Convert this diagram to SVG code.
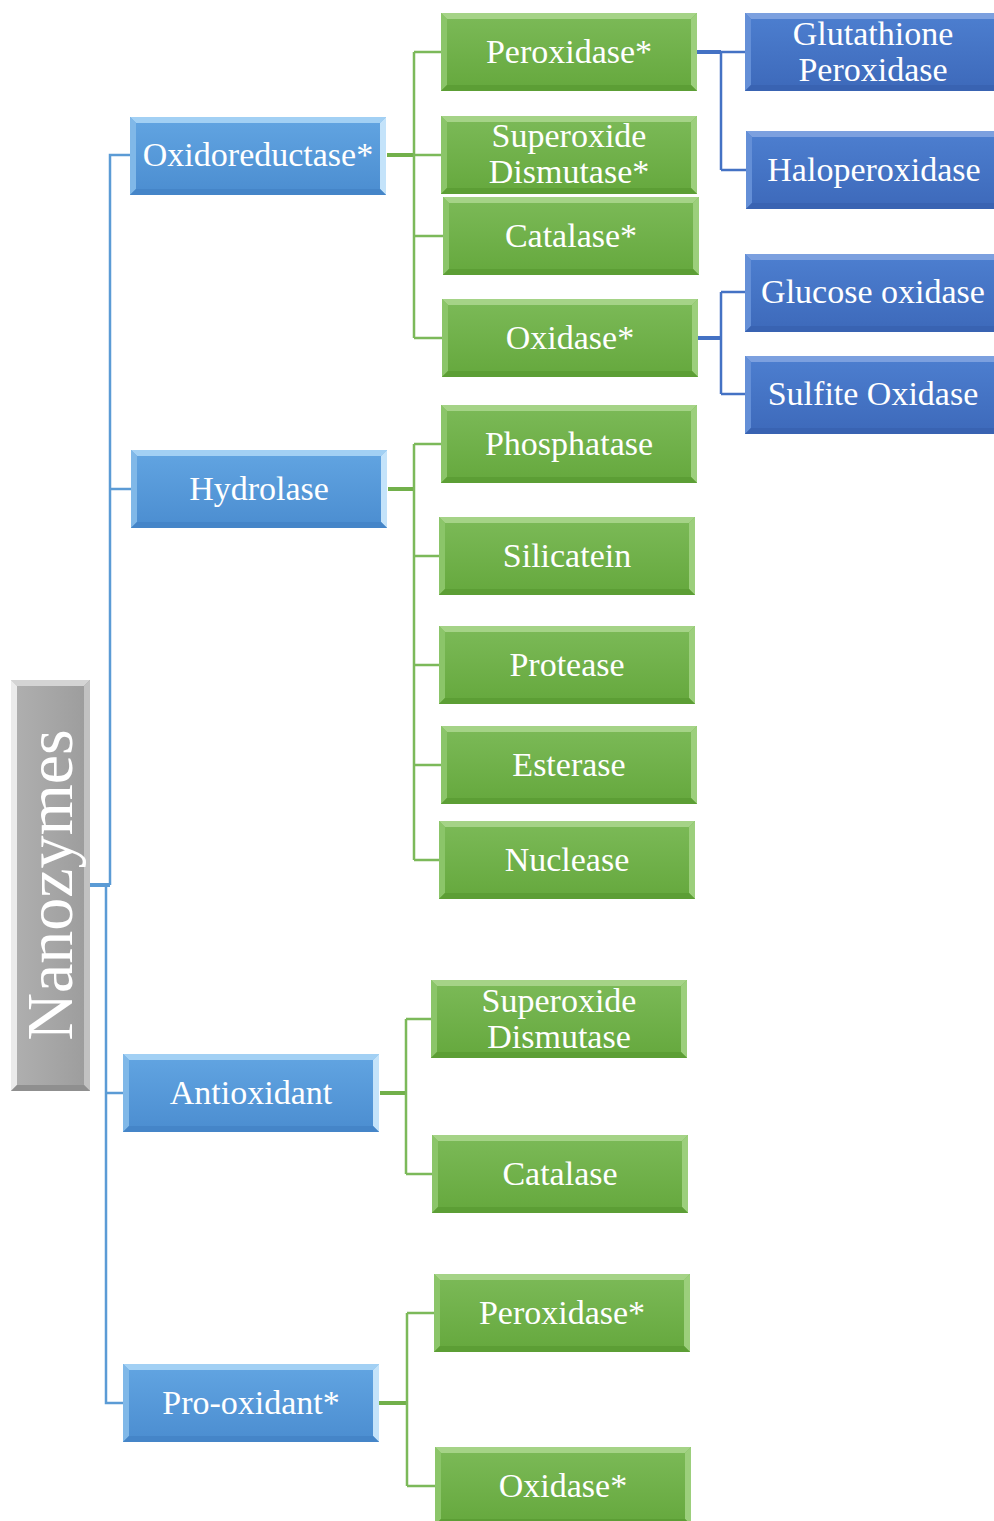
<svg xmlns="http://www.w3.org/2000/svg" xmlns:xlink="http://www.w3.org/1999/xlink" width="994" height="1521" viewBox="0 0 994 1521">
<style>
  text { font-family: "Liberation Serif", "Times New Roman", serif; fill: #ffffff; text-anchor: middle; }
  .t { font-size: 34px; }
  .big { font-size: 66px; }
  .cb { stroke: #5b9bd5; fill: none; stroke-width: 2.5; }
  .cbT { stroke: #5b9bd5; fill: none; stroke-width: 4; }
  .cg { stroke: #7cb95a; fill: none; stroke-width: 2.5; }
  .cgT { stroke: #72b04b; fill: none; stroke-width: 4; }
  .cd { stroke: #4472c4; fill: none; stroke-width: 2.5; }
  .cdT { stroke: #4472c4; fill: none; stroke-width: 4; }
</style>
<defs>
  <linearGradient id="gBlue" x1="0" y1="0" x2="0" y2="1">
    <stop offset="0" stop-color="#62a5e2"/><stop offset="1" stop-color="#4b8dd0"/>
  </linearGradient>
  <linearGradient id="gGreen" x1="0" y1="0" x2="0" y2="1">
    <stop offset="0" stop-color="#7cba58"/><stop offset="1" stop-color="#65a83d"/>
  </linearGradient>
  <linearGradient id="gDark" x1="0" y1="0" x2="0" y2="1">
    <stop offset="0" stop-color="#4d7fd0"/><stop offset="1" stop-color="#3d69ba"/>
  </linearGradient>
  <linearGradient id="gGray" x1="0" y1="0" x2="1" y2="0">
    <stop offset="0" stop-color="#b0b0b0"/><stop offset="1" stop-color="#9c9c9c"/>
  </linearGradient>
  <g id="boxBlue">
    <rect x="0" y="0" width="256" height="78" fill="url(#gBlue)"/>
    <polygon points="0,0 256,0 250,6 6,6" fill="#a2d0f4"/>
    <polygon points="0,0 6,6 6,72 0,78" fill="#80b8e8"/>
    <polygon points="256,0 256,78 250,72 250,6" fill="#c4e3fa"/>
    <polygon points="0,78 6,72 250,72 256,78" fill="#4585c8"/>
  </g>
  <g id="boxGreen">
    <rect x="0" y="0" width="256" height="78" fill="url(#gGreen)"/>
    <polygon points="0,0 256,0 250,6 6,6" fill="#a5d387"/>
    <polygon points="0,0 6,6 6,72 0,78" fill="#8bc569"/>
    <polygon points="256,0 256,78 250,72 250,6" fill="#9ccf7c"/>
    <polygon points="0,78 6,72 250,72 256,78" fill="#5c9e35"/>
  </g>
  <g id="boxDark">
    <rect x="0" y="0" width="256" height="78" fill="url(#gDark)"/>
    <polygon points="0,0 256,0 250,6 6,6" fill="#7ca0df"/>
    <polygon points="0,0 6,6 6,72 0,78" fill="#648fd7"/>
    <polygon points="256,0 256,78 250,72 250,6" fill="#7ca0df"/>
    <polygon points="0,78 6,72 250,72 256,78" fill="#3963b2"/>
  </g>
</defs>

<g id="connectors">
  <path class="cbT" d="M90,885 H110"/>
  <path class="cb" d="M110,885 V155 H130 M110,489 H131"/>
  <path class="cb" d="M106,885 V1403 H123 M106,1093 H123"/>
  <path class="cgT" d="M387,155 H414"/>
  <path class="cg" d="M414,52 V338 M414,52 H441 M414,155 H441 M414,236 H443 M414,338 H442"/>
  <path class="cgT" d="M388,489 H414"/>
  <path class="cg" d="M414,444 V860 M414,444 H441 M414,556 H439 M414,665 H439 M414,765 H441 M414,860 H439"/>
  <path class="cgT" d="M380,1093 H406"/>
  <path class="cg" d="M406,1019 V1174 M406,1019 H431 M406,1174 H432"/>
  <path class="cgT" d="M379,1403 H407"/>
  <path class="cg" d="M407,1313 V1486 M407,1313 H434 M407,1486 H435"/>
  <path class="cdT" d="M697,52 H721"/>
  <path class="cd" d="M721,52 V170 M721,52 H745 M721,170 H746"/>
  <path class="cdT" d="M698,338 H721"/>
  <path class="cd" d="M721,292 V394 M721,292 H745 M721,394 H745"/>
</g>

<g id="nanozymes">
  <rect x="11" y="680" width="79" height="411" fill="url(#gGray)"/>
  <polygon points="11,680 90,680 84,686 17,686" fill="#d4d4d4"/>
  <polygon points="11,680 17,686 17,1085 11,1091" fill="#ebebeb"/>
  <polygon points="90,680 90,1091 84,1085 84,686" fill="#c2c2c2"/>
  <polygon points="11,1091 17,1085 84,1085 90,1091" fill="#8f8f8f"/>
  <text class="big" transform="translate(72,885) rotate(-90)">Nanozymes</text>
</g>

<g id="oxidoreductase"><use href="#boxBlue" x="130" y="117"/><text class="t" x="258" y="166">Oxidoreductase*</text></g>
<g id="hydrolase"><use href="#boxBlue" x="131" y="450"/><text class="t" x="259" y="500">Hydrolase</text></g>
<g id="antioxidant"><use href="#boxBlue" x="123" y="1054"/><text class="t" x="251" y="1104">Antioxidant</text></g>
<g id="prooxidant"><use href="#boxBlue" x="123" y="1364"/><text class="t" x="251" y="1414">Pro-oxidant*</text></g>

<g id="peroxidase1"><use href="#boxGreen" x="441" y="13"/><text class="t" x="569" y="63">Peroxidase*</text></g>
<g id="sod1"><use href="#boxGreen" x="441" y="116"/><text class="t" x="569" y="147">Superoxide</text><text class="t" x="569" y="183">Dismutase*</text></g>
<g id="catalase1"><use href="#boxGreen" x="443" y="197"/><text class="t" x="571" y="247">Catalase*</text></g>
<g id="oxidase1"><use href="#boxGreen" x="442" y="299"/><text class="t" x="570" y="349">Oxidase*</text></g>

<g id="phosphatase"><use href="#boxGreen" x="441" y="405"/><text class="t" x="569" y="455">Phosphatase</text></g>
<g id="silicatein"><use href="#boxGreen" x="439" y="517"/><text class="t" x="567" y="567">Silicatein</text></g>
<g id="protease"><use href="#boxGreen" x="439" y="626"/><text class="t" x="567" y="676">Protease</text></g>
<g id="esterase"><use href="#boxGreen" x="441" y="726"/><text class="t" x="569" y="776">Esterase</text></g>
<g id="nuclease"><use href="#boxGreen" x="439" y="821"/><text class="t" x="567" y="871">Nuclease</text></g>

<g id="sod2"><use href="#boxGreen" x="431" y="980"/><text class="t" x="559" y="1012">Superoxide</text><text class="t" x="559" y="1048">Dismutase</text></g>
<g id="catalase2"><use href="#boxGreen" x="432" y="1135"/><text class="t" x="560" y="1185">Catalase</text></g>

<g id="peroxidase2"><use href="#boxGreen" x="434" y="1274"/><text class="t" x="562" y="1324">Peroxidase*</text></g>
<g id="oxidase2"><use href="#boxGreen" x="435" y="1447"/><text class="t" x="563" y="1497">Oxidase*</text></g>

<g id="glutathione"><use href="#boxDark" x="745" y="13"/><text class="t" x="873" y="45">Glutathione</text><text class="t" x="873" y="81">Peroxidase</text></g>
<g id="haloperoxidase"><use href="#boxDark" x="746" y="131"/><text class="t" x="874" y="181">Haloperoxidase</text></g>
<g id="glucoseoxidase"><use href="#boxDark" x="745" y="254"/><text class="t" x="873" y="303">Glucose oxidase</text></g>
<g id="sulfiteoxidase"><use href="#boxDark" x="745" y="356"/><text class="t" x="873" y="405">Sulfite Oxidase</text></g>
</svg>
